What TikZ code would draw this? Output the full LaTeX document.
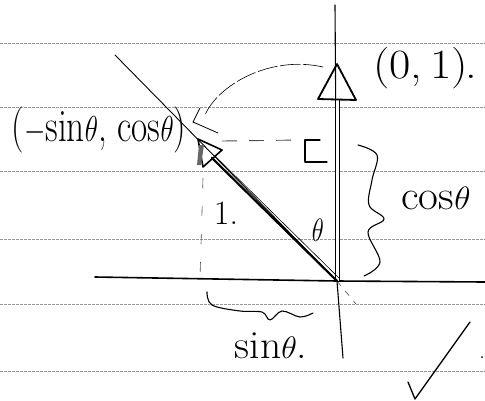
\documentclass[tikz,border=0pt]{standalone}
\usepackage{fontspec}
\usetikzlibrary{calc}
\begin{document}
\begin{tikzpicture}[x=1pt,y=-1pt,
  rule/.style={gray!80,line width=0.7pt,dash pattern=on 3pt off 1pt},
  ink/.style={black,line width=1.1pt,line cap=round,line join=round},
  thick ink/.style={black,line width=2.2pt,line cap=round},
  thin ink/.style={black,line width=0.6pt,line cap=round},
  faint/.style={black!70,line width=0.6pt,dash pattern=on 6pt off 7pt},
  lbl/.style={inner sep=0pt,font=\fontsize{32}{36}\selectfont}]
\useasboundingbox (0,0) rectangle (485,400);
% ruled lines
\foreach \y in {43,107,171,239,304,371} \draw[rule] (0,\y) -- (485,\y);
% coordinates
\coordinate (O) at (337,281);
\coordinate (Vtop) at (335,5);
\coordinate (Vbot) at (343,358);
\coordinate (Hl) at (95,277);
\coordinate (Hr) at (485,282);
\coordinate (Ltop) at (115,55);
\coordinate (Ldown) at (356,304);
% axes
\draw[ink] (Vtop) -- (O) -- (Vbot);
\draw[ink,line width=1.6pt] (Hl) -- (O) -- (Hr);
% rotated axis line
\draw[thin ink,line width=0.9pt] (Ltop) -- (O);
\draw[faint] (O) -- (Ldown);
% vertical unit vector (double line)
\coordinate (Vbase) at (337,99);
\draw[black,line width=1pt,double,double distance=3pt] (O) -- (Vbase);
\draw[ink,line width=1.8pt] (337,64) -- (318,99) -- (356,100) -- cycle;
% rotated unit vector
\coordinate (Rtip) at (198,139);
\coordinate (Rbase) at (212,158);
\draw[thick ink] (O) -- (Rbase);
\draw[thin ink] ($(O)+(3,-2)$) -- ($(Rbase)+(3,-2)$);
\draw[ink,line width=1.6pt] (Rtip) -- (222,150) -- (203,167) -- cycle;
\fill[black!60] (199,145) -- (204,145) -- (201,165) -- (197,165) -- cycle;
% dashed projections
\draw[faint,line width=0.9pt,dash pattern=on 15pt off 12pt] (222,141) -- (300,140);
\draw[faint,dash pattern=on 10pt off 18pt] (203,178) -- (200,278);
% right angle mark
\draw[ink] (320,140) -- (305,140) -- (305,162) -- (327,162);
% curved dashed arrow from (0,1) to (-sin,cos)
\draw[thin ink,dash pattern=on 20pt off 3pt] (323,67) .. controls (270,55) and (218,85) .. (205,115);
\draw[thin ink,line width=0.8pt] (200,108) -- (193,122) -- (218,133);
% braces
\draw[ink] plot[smooth,tension=0.6] coordinates {(358,145) (377,155) (372,180) (369,205) (384,219) (368,232) (380,262) (364,276)};
\draw[ink] plot[smooth,tension=0.6] coordinates {(207,292) (212,305) (240,311) (262,312) (270,320) (282,311) (300,317) (313,313)};
% labels
\node[lbl,xscale=1.45,yscale=1.3] (l01) at (425,68) {(0,\,1)\kern-2pt.};
\node[lbl,xscale=1.1,yscale=1.45] (lrot) at (99,130) {($-$sin$\theta$, cos$\theta$)};
\node[lbl,xscale=1.35,yscale=1.3] (lcos) at (436,198) {cos$\theta$};
\node[lbl,xscale=1.3,yscale=1.25] (lsin) at (271,346) {sin$\theta$.};
\node[lbl,font=\fontsize{30}{32}\selectfont,yscale=1.3] (lth) at (318,230) {$\theta$};
\node[lbl,font=\fontsize{34}{36}\selectfont] (lone) at (226,213) {1.};
% check mark
\draw[ink,line width=1.3pt] (408,382) -- (415,399) -- (470,322);
\fill (482,357) circle (1pt);
\end{tikzpicture}
\end{document}
